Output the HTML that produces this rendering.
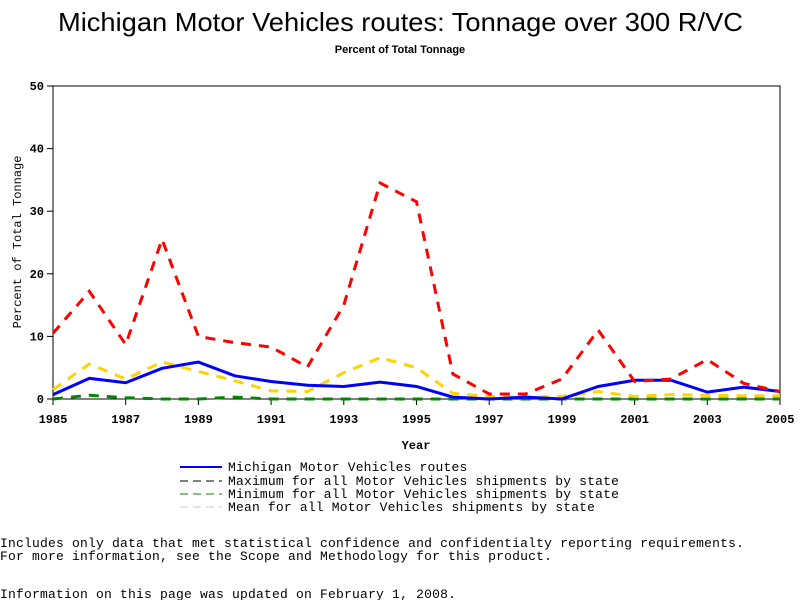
<!DOCTYPE html>
<html><head><meta charset="utf-8"><style>
body{margin:0;background:#fff;width:800px;height:600px;overflow:hidden;font-family:"Liberation Sans",sans-serif}
svg text{font-family:"Liberation Mono",monospace}
</style></head><body>
<svg id="c" width="800" height="600">
<text x="58" y="31" font-size="26" textLength="685" lengthAdjust="spacingAndGlyphs" style="font-family:'Liberation Sans',sans-serif">Michigan Motor Vehicles routes: Tonnage over 300 R/VC</text>
<text x="400" y="53" text-anchor="middle" font-size="11" font-weight="bold" style="font-family:'Liberation Sans',sans-serif">Percent of Total Tonnage</text>
<rect x="53" y="86" width="727" height="313" fill="none" stroke="#000"/>
<g id="axes"></g><g id="lines"></g>
<text x="416" y="449" text-anchor="middle" font-size="12" font-weight="bold">Year</text>
<text transform="translate(21,242) rotate(-90)" text-anchor="middle" font-size="12">Percent of Total Tonnage</text>
<g font-size="13" letter-spacing="0.18">
<line x1="180" y1="467" x2="222" y2="467" stroke="#00f" stroke-width="2"/><text x="228" y="471">Michigan Motor Vehicles routes</text>
<line x1="180" y1="481" x2="222" y2="481" stroke="#000" stroke-dasharray="8,5"/><text x="228" y="485">Maximum for all Motor Vehicles shipments by state</text>
<line x1="180" y1="494" x2="222" y2="494" stroke="#080" stroke-dasharray="8,5"/><text x="228" y="498">Minimum for all Motor Vehicles shipments by state</text>
<line x1="180" y1="507" x2="222" y2="507" stroke="#ccc" stroke-dasharray="8,5"/><text x="228" y="511">Mean for all Motor Vehicles shipments by state</text>
</g>
<g font-size="13" letter-spacing="0.2">
<text x="0" y="547">Includes only data that met statistical confidence and confidentialty reporting requirements.</text>
<text x="0" y="560">For more information, see the Scope and Methodology for this product.</text>
<text x="0" y="598">Information on this page was updated on February 1, 2008.</text>
</g>
</svg>
<script>
const years=[1985,1986,1987,1988,1989,1990,1991,1992,1993,1994,1995,1996,1997,1998,1999,2000,2001,2002,2003,2004,2005];
const michigan=[0.7,3.3,2.6,4.9,5.9,3.7,2.8,2.2,2.0,2.7,2.0,0.3,0,0.3,0,2.0,3.0,3.0,1.1,1.9,1.2];
const maximum=[10.5,17.2,8.7,25.5,10,9,8.3,5.1,15,34.5,31.5,4,0.8,0.8,3.2,11,2.8,3.2,6.3,2.5,1.2];
const minimum=[0,0.6,0.2,0,0,0.3,0,0,0,0,0,0,0,0,0,0,0,0,0,0,0];
const mean=[1.5,5.6,3.2,5.9,4.4,2.9,1.3,1.2,4.2,6.6,5.0,0.9,0.4,0.3,0.4,1.2,0.4,0.7,0.6,0.5,0.5];
const yTicks=[0,10,20,30,40,50];
const xTicks=[1985,1987,1989,1991,1993,1995,1997,1999,2001,2003,2005];
const NS='http://www.w3.org/2000/svg';
const X=y=>53+(y-1985)*727/20, Y=v=>399-v*313/50;
const ax=document.getElementById('axes'), ln=document.getElementById('lines');
function mk(t,a,p){const e=document.createElementNS(NS,t);for(const k in a)e.setAttribute(k,a[k]);p.appendChild(e);return e;}
yTicks.forEach(v=>{mk('line',{x1:47,x2:53,y1:Y(v),y2:Y(v),stroke:'#000'},ax);
 const t=mk('text',{x:44,y:Y(v)+4,'text-anchor':'end','font-size':12,'font-weight':'bold'},ax);t.textContent=v;
 
 });
xTicks.forEach(v=>{mk('line',{x1:X(v),x2:X(v),y1:399,y2:405},ax);ax.lastChild.setAttribute('stroke','#000');
 const t=mk('text',{x:X(v),y:423,'text-anchor':'middle','font-size':12,'font-weight':'bold'},ax);t.textContent=v;
 
 });
function series(d,col,w,dash,name){const p=mk('polyline',{points:d.map((v,i)=>X(years[i])+','+Y(v)).join(' '),fill:'none',stroke:col,'stroke-width':w},ln);
 if(dash)p.setAttribute('stroke-dasharray',dash);
 
 }
series(minimum,'#080',3,'10,8','minimum-line');
series(mean,'#ffd200',3,'10,8','mean-line');
series(michigan,'#00f',3,null,'michigan-line');
series(maximum,'#f00',3,'10,8','maximum-line');
</script>
</body></html>
